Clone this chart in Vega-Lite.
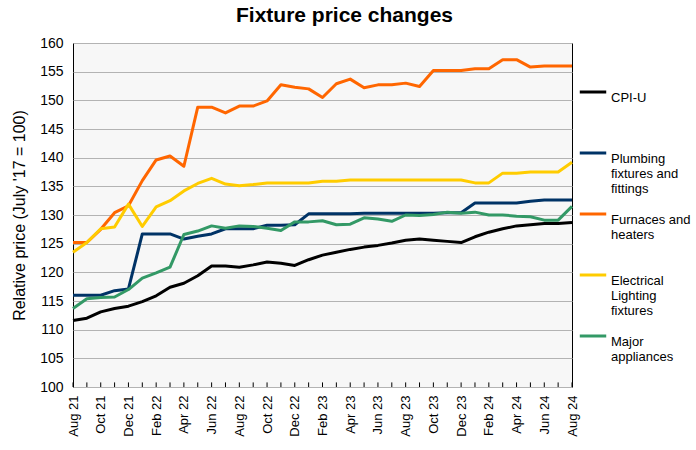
{
  "$schema": "https://vega.github.io/schema/vega-lite/v6.json",
  "width": 499,
  "height": 344,
  "autosize": "none",
  "padding": {"left": 73, "top": 43, "right": 124, "bottom": 63},
  "background": "white",
  "title": {"text": "Fixture price changes", "font": "Liberation Sans", "fontSize": 21, "fontWeight": "bold", "color": "black", "anchor": "middle", "dx": 22, "offset": 10},
  "config": {
    "view": {"stroke": "black", "strokeWidth": 1, "fill": "#f7f7f7"},
    "axis": {"labelFont": "Liberation Sans", "titleFont": "Liberation Sans", "labelColor": "black", "titleColor": "black"}
  },
  "data": {"values": [
    {"month": "Aug 21", "CPI-U": 111.6, "Plumbing fixtures and fittings": 116.0, "Furnaces and heaters": 125.2, "Electrical Lighting fixtures": 123.5, "Major appliances": 113.7},
    {"month": "Sep 21", "CPI-U": 112.0, "Plumbing fixtures and fittings": 116.0, "Furnaces and heaters": 125.2, "Electrical Lighting fixtures": 125.2, "Major appliances": 115.4},
    {"month": "Oct 21", "CPI-U": 113.1, "Plumbing fixtures and fittings": 116.0, "Furnaces and heaters": 127.5, "Electrical Lighting fixtures": 127.6, "Major appliances": 115.6},
    {"month": "Nov 21", "CPI-U": 113.7, "Plumbing fixtures and fittings": 116.8, "Furnaces and heaters": 130.4, "Electrical Lighting fixtures": 127.9, "Major appliances": 115.7},
    {"month": "Dec 21", "CPI-U": 114.1, "Plumbing fixtures and fittings": 117.1, "Furnaces and heaters": 131.6, "Electrical Lighting fixtures": 131.9, "Major appliances": 117.0},
    {"month": "Jan 22", "CPI-U": 114.9, "Plumbing fixtures and fittings": 126.7, "Furnaces and heaters": 136.0, "Electrical Lighting fixtures": 128.0, "Major appliances": 119.0},
    {"month": "Feb 22", "CPI-U": 115.9, "Plumbing fixtures and fittings": 126.7, "Furnaces and heaters": 139.6, "Electrical Lighting fixtures": 131.4, "Major appliances": 119.9},
    {"month": "Mar 22", "CPI-U": 117.4, "Plumbing fixtures and fittings": 126.7, "Furnaces and heaters": 140.3, "Electrical Lighting fixtures": 132.5, "Major appliances": 120.9},
    {"month": "Apr 22", "CPI-U": 118.1, "Plumbing fixtures and fittings": 125.8, "Furnaces and heaters": 138.5, "Electrical Lighting fixtures": 134.2, "Major appliances": 126.6},
    {"month": "May 22", "CPI-U": 119.4, "Plumbing fixtures and fittings": 126.3, "Furnaces and heaters": 148.8, "Electrical Lighting fixtures": 135.5, "Major appliances": 127.2},
    {"month": "Jun 22", "CPI-U": 121.1, "Plumbing fixtures and fittings": 126.7, "Furnaces and heaters": 148.8, "Electrical Lighting fixtures": 136.4, "Major appliances": 128.1},
    {"month": "Jul 22", "CPI-U": 121.1, "Plumbing fixtures and fittings": 127.6, "Furnaces and heaters": 147.8, "Electrical Lighting fixtures": 135.4, "Major appliances": 127.7},
    {"month": "Aug 22", "CPI-U": 120.9, "Plumbing fixtures and fittings": 127.6, "Furnaces and heaters": 149.0, "Electrical Lighting fixtures": 135.1, "Major appliances": 128.1},
    {"month": "Sep 22", "CPI-U": 121.3, "Plumbing fixtures and fittings": 127.6, "Furnaces and heaters": 149.0, "Electrical Lighting fixtures": 135.3, "Major appliances": 128.0},
    {"month": "Oct 22", "CPI-U": 121.8, "Plumbing fixtures and fittings": 128.2, "Furnaces and heaters": 149.9, "Electrical Lighting fixtures": 135.6, "Major appliances": 127.7},
    {"month": "Nov 22", "CPI-U": 121.6, "Plumbing fixtures and fittings": 128.2, "Furnaces and heaters": 152.7, "Electrical Lighting fixtures": 135.6, "Major appliances": 127.3},
    {"month": "Dec 22", "CPI-U": 121.2, "Plumbing fixtures and fittings": 128.3, "Furnaces and heaters": 152.3, "Electrical Lighting fixtures": 135.6, "Major appliances": 128.8},
    {"month": "Jan 23", "CPI-U": 122.2, "Plumbing fixtures and fittings": 130.2, "Furnaces and heaters": 152.0, "Electrical Lighting fixtures": 135.6, "Major appliances": 128.8},
    {"month": "Feb 23", "CPI-U": 123.0, "Plumbing fixtures and fittings": 130.2, "Furnaces and heaters": 150.5, "Electrical Lighting fixtures": 135.9, "Major appliances": 129.0},
    {"month": "Mar 23", "CPI-U": 123.5, "Plumbing fixtures and fittings": 130.2, "Furnaces and heaters": 152.9, "Electrical Lighting fixtures": 135.9, "Major appliances": 128.3},
    {"month": "Apr 23", "CPI-U": 124.0, "Plumbing fixtures and fittings": 130.2, "Furnaces and heaters": 153.7, "Electrical Lighting fixtures": 136.1, "Major appliances": 128.4},
    {"month": "May 23", "CPI-U": 124.4, "Plumbing fixtures and fittings": 130.3, "Furnaces and heaters": 152.2, "Electrical Lighting fixtures": 136.1, "Major appliances": 129.5},
    {"month": "Jun 23", "CPI-U": 124.7, "Plumbing fixtures and fittings": 130.3, "Furnaces and heaters": 152.7, "Electrical Lighting fixtures": 136.1, "Major appliances": 129.3},
    {"month": "Jul 23", "CPI-U": 125.1, "Plumbing fixtures and fittings": 130.3, "Furnaces and heaters": 152.7, "Electrical Lighting fixtures": 136.1, "Major appliances": 128.9},
    {"month": "Aug 23", "CPI-U": 125.6, "Plumbing fixtures and fittings": 130.3, "Furnaces and heaters": 153.0, "Electrical Lighting fixtures": 136.1, "Major appliances": 130.0},
    {"month": "Sep 23", "CPI-U": 125.8, "Plumbing fixtures and fittings": 130.3, "Furnaces and heaters": 152.4, "Electrical Lighting fixtures": 136.1, "Major appliances": 129.9},
    {"month": "Oct 23", "CPI-U": 125.6, "Plumbing fixtures and fittings": 130.3, "Furnaces and heaters": 155.2, "Electrical Lighting fixtures": 136.1, "Major appliances": 130.1},
    {"month": "Nov 23", "CPI-U": 125.4, "Plumbing fixtures and fittings": 130.4, "Furnaces and heaters": 155.2, "Electrical Lighting fixtures": 136.1, "Major appliances": 130.5},
    {"month": "Dec 23", "CPI-U": 125.2, "Plumbing fixtures and fittings": 130.4, "Furnaces and heaters": 155.2, "Electrical Lighting fixtures": 136.1, "Major appliances": 130.3},
    {"month": "Jan 24", "CPI-U": 126.2, "Plumbing fixtures and fittings": 132.1, "Furnaces and heaters": 155.5, "Electrical Lighting fixtures": 135.6, "Major appliances": 130.5},
    {"month": "Feb 24", "CPI-U": 127.0, "Plumbing fixtures and fittings": 132.1, "Furnaces and heaters": 155.5, "Electrical Lighting fixtures": 135.6, "Major appliances": 130.0},
    {"month": "Mar 24", "CPI-U": 127.6, "Plumbing fixtures and fittings": 132.1, "Furnaces and heaters": 157.1, "Electrical Lighting fixtures": 137.3, "Major appliances": 130.0},
    {"month": "Apr 24", "CPI-U": 128.1, "Plumbing fixtures and fittings": 132.1, "Furnaces and heaters": 157.1, "Electrical Lighting fixtures": 137.3, "Major appliances": 129.8},
    {"month": "May 24", "CPI-U": 128.3, "Plumbing fixtures and fittings": 132.4, "Furnaces and heaters": 155.8, "Electrical Lighting fixtures": 137.5, "Major appliances": 129.7},
    {"month": "Jun 24", "CPI-U": 128.5, "Plumbing fixtures and fittings": 132.6, "Furnaces and heaters": 156.0, "Electrical Lighting fixtures": 137.5, "Major appliances": 129.1},
    {"month": "Jul 24", "CPI-U": 128.5, "Plumbing fixtures and fittings": 132.6, "Furnaces and heaters": 156.0, "Electrical Lighting fixtures": 137.5, "Major appliances": 129.1},
    {"month": "Aug 24", "CPI-U": 128.7, "Plumbing fixtures and fittings": 132.6, "Furnaces and heaters": 156.0, "Electrical Lighting fixtures": 139.2, "Major appliances": 131.5}
  ]},
  "transform": [
    {"fold": ["CPI-U", "Plumbing fixtures and fittings", "Furnaces and heaters", "Electrical Lighting fixtures", "Major appliances"], "as": ["series", "value"]}
  ],
  "encoding": {
    "x": {
      "field": "month", "type": "ordinal", "sort": null,
      "scale": {"type": "point", "padding": 0},
      "axis": {
        "title": null, "labelAngle": -90, "labelFontSize": 13, "domain": false,
        "ticks": false, "labelPadding": 8,
        "labelExpr": "indexof(['Aug','Oct','Dec','Feb','Apr','Jun'], slice(datum.value, 0, 3)) >= 0 ? datum.value : ''"
      }
    }
  },
  "layer": [
    {
      "transform": [{"filter": "datum.series == 'CPI-U'"}],
      "mark": {"type": "rule", "color": "black", "strokeWidth": 1},
      "encoding": {
        "y": {
          "datum": 100, "type": "quantitative",
          "scale": {"domain": [100, 160], "nice": false, "zero": false},
          "axis": {
            "title": "Relative price (July '17 = 100)", "titleFontSize": 16, "titleFontWeight": "normal", "titlePadding": 12,
            "values": [100, 105, 110, 115, 120, 125, 130, 135, 140, 145, 150, 155, 160],
            "labelFontSize": 14, "ticks": false, "labelPadding": 10, "domain": false,
            "grid": true, "gridColor": "#b3b3b3", "gridWidth": 1
          }
        },
        "y2": {"datum": 100.8}
      }
    },
    {
      "mark": {"type": "line", "strokeWidth": 3, "strokeJoin": "round"},
      "encoding": {
        "y": {
          "field": "value", "type": "quantitative",
          "scale": {"domain": [100, 160], "nice": false, "zero": false},
          "axis": {
            "title": "Relative price (July '17 = 100)", "titleFontSize": 16, "titleFontWeight": "normal", "titlePadding": 12,
            "values": [100, 105, 110, 115, 120, 125, 130, 135, 140, 145, 150, 155, 160],
            "labelFontSize": 14, "ticks": false, "labelPadding": 10, "domain": false,
            "grid": true, "gridColor": "#b3b3b3", "gridWidth": 1
          }
        },
        "color": {
          "field": "series", "type": "nominal",
          "scale": {
            "domain": ["CPI-U", "Plumbing fixtures and fittings", "Furnaces and heaters", "Electrical Lighting fixtures", "Major appliances"],
            "range": ["#000000", "#003366", "#ff6600", "#ffcc00", "#339966"]
          },
          "legend": {
            "title": null, "orient": "none", "legendX": 505, "legendY": 34,
            "symbolType": "stroke", "symbolStrokeWidth": 3, "symbolSize": 700,
            "labelFont": "Liberation Sans", "labelFontSize": 13, "labelColor": "black", "labelOffset": 3,
            "labelBaseline": "top", "rowPadding": 3,
            "labelExpr": "datum.label == 'Plumbing fixtures and fittings' ? ['Plumbing', 'fixtures and', 'fittings'] : datum.label == 'Furnaces and heaters' ? ['Furnaces and', 'heaters', ''] : datum.label == 'Electrical Lighting fixtures' ? ['Electrical', 'Lighting', 'fixtures'] : datum.label == 'Major appliances' ? ['Major', 'appliances', ''] : ['CPI-U', '', '']"
          }
        }
      }
    }
  ]
}
